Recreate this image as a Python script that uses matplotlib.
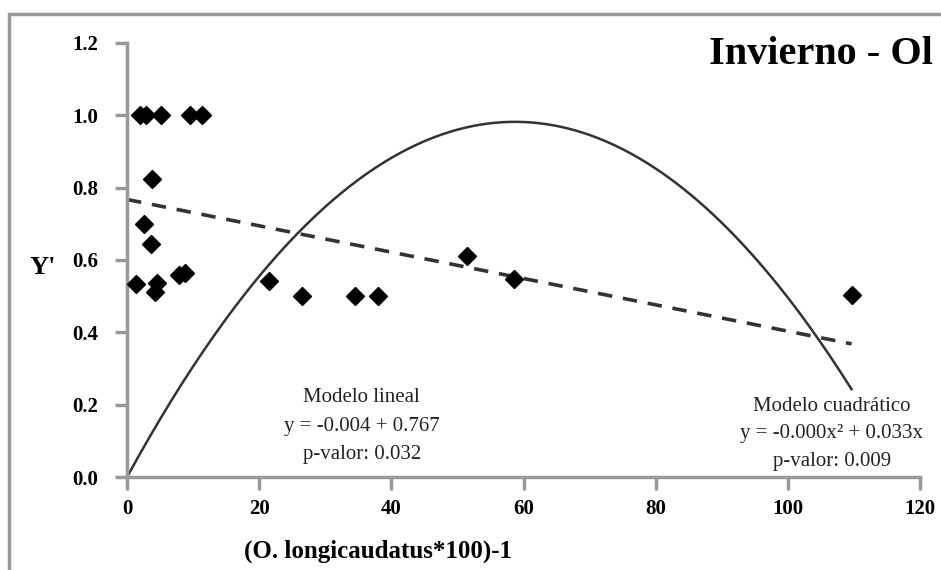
import numpy as np
import matplotlib
matplotlib.use("Agg")
import matplotlib.pyplot as plt
from matplotlib.patches import Rectangle

plt.rcParams["font.family"] = ["Liberation Serif", "DejaVu Serif"]

x_obs = [2.0, 2.8, 5.2, 9.6, 11.4, 3.8, 2.5, 3.6, 1.4, 4.5, 4.2, 7.8, 8.8,
         21.5, 26.5, 34.5, 38.0, 51.5, 58.5, 109.6]
y_obs = [1.0, 1.0, 1.0, 1.0, 1.0, 0.823, 0.70, 0.644, 0.533, 0.537, 0.51, 0.558, 0.565,
         0.542, 0.50, 0.50, 0.50, 0.61, 0.548, 0.503]

# fitted models (coefficients as drawn)
lin_coef = [0.767, -0.00364]           # intercept, slope
quad_coef = [0.0, 0.03345, -0.000285]  # c, b, a
x_range = [0.0, 109.6]

x_ticks = [0, 20, 40, 60, 80, 100, 120]
y_ticks = [0.0, 0.2, 0.4, 0.6, 0.8, 1.0, 1.2]

fig = plt.figure(figsize=(9.41, 5.70), dpi=100)
ax = fig.add_axes([0.135, 0.163, 0.843, 0.762])

xs = np.linspace(x_range[0], x_range[1], 200)
ax.plot(xs, quad_coef[0] + quad_coef[1] * xs + quad_coef[2] * xs ** 2,
        color="#333333", lw=1.8, zorder=2)
ax.plot(xs, lin_coef[0] + lin_coef[1] * xs, color="#333333", lw=2.6,
        dashes=(4, 3), zorder=2)
ax.plot(x_obs, y_obs, ls="none", marker="D", ms=9.5, color="black", zorder=3)

ax.set_xlim(0, 120); ax.set_ylim(0, 1.2)
ax.set_xticks(x_ticks); ax.set_yticks(y_ticks)
ax.set_xticklabels([str(t) for t in x_ticks], fontsize=15, fontweight="bold")
ax.set_yticklabels([f"{t:.1f}" for t in y_ticks], fontsize=15, fontweight="bold")
for s in ("top", "right"):
    ax.spines[s].set_visible(False)
for s in ("left", "bottom"):
    ax.spines[s].set_color("#999999"); ax.spines[s].set_linewidth(2.5)
ax.tick_params(colors="#999999", width=2.5, length=9, labelcolor="black", pad=7)
ax.tick_params(axis="y", pad=12)

fig.text(0.402, 0.032, "(O. longicaudatus*100)-1", fontsize=18, fontweight="bold",
         ha="center", va="center")
fig.text(0.031, 0.53, "Y'", fontsize=19, fontweight="bold", ha="left", va="center")
fig.text(0.991, 0.905, "Invierno - Ol", fontsize=29, fontweight="bold", ha="right", va="center")

ax.text(35.5, 0.141, "Modelo lineal\ny = -0.004 + 0.767\np-valor: 0.032",
        ha="center", va="center", fontsize=15, linespacing=1.65, color="#222222")
ax.text(106.6, 0.12, "Modelo cuadrático\ny = -0.000x² + 0.033x\np-valor: 0.009",
        ha="center", va="center", fontsize=15, linespacing=1.6, color="#222222")

# outer chart frame (left and top edges visible)
fig.patches.append(Rectangle((0.01, -0.2), 1.2, 1.175, transform=fig.transFigure,
                             fill=False, ec="#999999", lw=2.5))

fig.savefig("out.png", dpi=100)
